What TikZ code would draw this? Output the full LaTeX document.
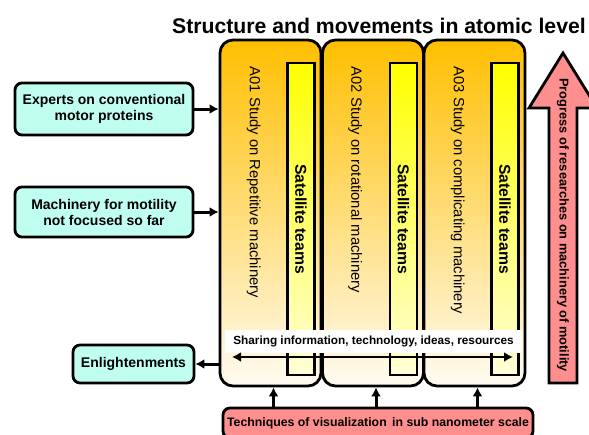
\documentclass[tikz,border=0pt]{standalone}
\usepackage{fontspec}
\setmainfont{Liberation Sans}
\usetikzlibrary{positioning, calc, arrows.meta}

\begin{document}
\begin{tikzpicture}[
  x=1pt, y=-1pt,
  >={Latex[length=9pt,width=10pt]},
  groupbox/.style={draw=black, line width=2.8pt, rounded corners=13pt,
    top color=cGold, bottom color=cCream, inner sep=0pt,
    minimum width=101pt, minimum height=346pt},
  satbar/.style={draw=black, line width=2.6pt, top color=yellow,
    bottom color=cPale, inner sep=0pt,
    minimum width=27pt, minimum height=312pt},
  grouplabel/.style={rotate=-90, anchor=west, inner sep=0pt,
    font=\fontsize{14.8}{16}\selectfont},
  satlabel/.style={rotate=-90, inner sep=0pt,
    font=\bfseries\fontsize{15.7}{17}\selectfont},
  inbox/.style={draw=black, line width=2.8pt, rounded corners=7pt,
    fill=cMint, align=center, inner sep=0pt,
    font=\bfseries\fontsize{14}{16}\selectfont},
  link/.style={black, line width=3pt, ->},
]
\definecolor{cGold}{HTML}{FFBF00}   % top of the study columns
\definecolor{cCream}{HTML}{FFFBF2}
\definecolor{cPale}{HTML}{FFFFD8}
\definecolor{cMint}{HTML}{C0FFF0}
\definecolor{cPink}{HTML}{FF8F8F}

\useasboundingbox (0,0) rectangle (589,434);

% ---------- title ----------
\node[font=\bfseries\fontsize{21.2}{23}\selectfont] (title) at (379,26)
  {Structure and movements in atomic level};

% ---------- study columns ----------
\node[groupbox] (col1) at (270.5,213) {};
\node[groupbox] (col2) at (373.0,213) {};
\node[groupbox] (col3) at (474.5,213) {};

% ---------- satellite bars ----------
\node[satbar] (bar1) at ($(col1.east |- 0,219)+(-21.5,0)$) {};
\node[satbar] (bar2) at ($(col2.east |- 0,219)+(-21.5,0)$) {};
\node[satbar] (bar3) at ($(col3.east |- 0,219)+(-21.5,0)$) {};
\node[satlabel] (sat1) at (bar1) {Satellite teams};
\node[satlabel] (sat2) at (bar2) {Satellite teams};
\node[satlabel] (sat3) at (bar3) {Satellite teams};

% ---------- column titles ----------
\node[grouplabel] (lab1) at ($(col1.north west)+(35,28)$)
  {A01 Study on Repetitive machinery};
\node[grouplabel] (lab2) at ($(col2.north west)+(34,28)$)
  {A02 Study on rotational machinery};
\node[grouplabel] (lab3) at ($(col3.north west)+(35,28)$)
  {A03 Study on complicating machinery};

% ---------- sharing band ----------
\node[fill=white, minimum width=297pt, minimum height=23pt, inner sep=0pt,
      font=\bfseries\fontsize{11.8}{13}\selectfont] (share) at (373.5,341.5)
  {Sharing information, technology, ideas, resources};
\coordinate (shareL) at (232,357);
\coordinate (shareR) at (513,357);
\draw[black, line width=2.6pt, <->] (shareL) -- (shareR);

% ---------- inputs on the left ----------
\node[inbox, minimum width=178pt, minimum height=52pt] (expert) at (104,109)
  {Experts on conventional\\motor proteins};
\node[inbox, minimum width=178pt, minimum height=50pt] (machine) at (104,212)
  {Machinery for motility\\not focused so far};
\node[inbox, minimum width=121pt, minimum height=38pt] (enlight) at (133.5,364)
  {Enlightenments};

\draw[link] (expert.east) -- (expert.east -| col1.west);
\draw[link] (machine.east) -- (machine.east -| col1.west);
\draw[link] (enlight.east -| col1.west) -- (enlight.east);

% ---------- visualization techniques ----------
\node[draw=black, line width=2.8pt, rounded corners=7pt, fill=cPink,
      minimum width=310pt, minimum height=30pt, inner sep=0pt,
      font=\bfseries\fontsize{12.3}{14}\selectfont] (tech) at (378,423)
  {Techniques of visualization\, in sub nanometer scale};
\draw[link] ($(tech.north -| col1.south)+(3,0)$) -- ($(col1.south)+(3,0)$);
\draw[link] ($(tech.north -| col2.south)+(3,0)$) -- ($(col2.south)+(3,0)$);
\draw[link] ($(tech.north -| col3.south)+(3,0)$) -- ($(col3.south)+(3,0)$);

% ---------- progress arrow ----------
\filldraw[fill=cPink, draw=black, line width=2.8pt, line join=miter]
  (549,383) -- (549,108) -- (529,108) -- (563,53) -- (597,108)
  -- (577,108) -- (577,383) -- cycle;
\node[rotate=-90, anchor=west, inner sep=0pt,
      font=\bfseries\fontsize{12.8}{14}\selectfont] (prog) at (563,78)
  {Progress of researches on machinery of motility};

\end{tikzpicture}
\end{document}
